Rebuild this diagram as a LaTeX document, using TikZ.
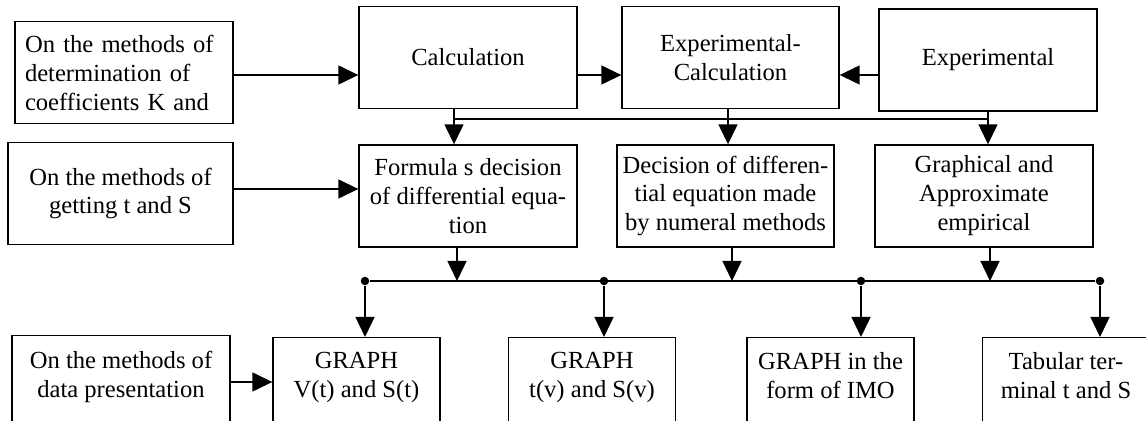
\documentclass[tikz,border=0pt]{standalone}
\usepackage{fontspec}
\setmainfont{Liberation Serif}
\usetikzlibrary{arrows.meta}
\begin{document}
\begin{tikzpicture}[x=0.02cm,y=-0.02cm,
        box/.style={draw,line width=0.8pt,align=center,inner sep=0pt,
            minimum width=4.36cm,minimum height=2.04cm,font=\fontsize{14}{16.5}\selectfont},
        lowbox/.style={box,anchor=north,minimum width=3.34cm,minimum height=0pt,
            inner ysep=0.3cm,text depth=3cm},
        arr/.style={-{Triangle[length=0.4cm,width=0.38cm]},line width=0.8pt},
        dot/.style={circle,fill,inner sep=0pt,minimum size=0.17cm}]
        \useasboundingbox (0,0) rectangle (1146,421);
        % rows of the arrows from the left
        \coordinate (r1) at (0,75);
        \coordinate (r2) at (0,189);
        \coordinate (r3) at (0,382);

        \node [box,align=left,text width=3.96cm] (kcoef) at (124,72.5) {On the methods of\\determination of\\coefficients K and};
        \node [box] (calc) at (468,57.5) {Calculation};
        \node [box,minimum width=4.34cm] (expcalc) at (730.5,57.5) {Experimental-\\Calculation};
        \node [box] (exper) at (988,60) {Experimental};

        \node [box,minimum width=4.5cm] (getts) at (120.5,193.5) {On the methods of\\getting t and S};
        \node [box] (formula) at (468,196) {Formula s decision\\of differential equa-\\tion};
        \node [box,minimum width=4.34cm] (numeral) at (725.5,196) {Decision of differen-\\tial equation made\\by numeral methods};
        \node [box] (graphic) at (984,196) {Graphical and\\Approximate\\empirical};

        \node [lowbox,minimum width=4.36cm] (present) at (121,335) {On the methods of\\data presentation};
        \node [lowbox] (gvt) at (356.5,337) {GRAPH\\V(t) and S(t)};
        \node [lowbox] (gtv) at (592,337) {GRAPH\\t(v) and S(v)};
        \node [lowbox] (gimo) at (830.5,337) {GRAPH in the\\form of IMO};
        \node [lowbox] (gtab) at (1066,337) {Tabular ter-\\minal t and S};

        \draw [arr] (kcoef.east |- r1) -- (calc.west |- r1);
        \draw [arr] (calc.east |- r1) -- (expcalc.west |- r1);
        \draw [arr] (exper.west |- r1) -- (expcalc.east |- r1);
        \draw [arr] (getts.east |- r2) -- (formula.west |- r2);
        \draw [arr] (present.east |- r3) -- (gvt.west |- r3);

        % upper bus
        \coordinate (t1) at (454,119);
        \coordinate (t2) at (728,119);
        \coordinate (t3) at (988,119);
        \draw [line width=0.8pt] (t1) -- (t3);
        \draw [arr] (calc.south -| t1) -- (formula.north -| t1);
        \draw [arr] (expcalc.south -| t2) -- (numeral.north -| t2);
        \draw [arr] (exper.south -| t3) -- (graphic.north -| t3);

        % lower bus
        \coordinate (d1) at (457,281);
        \coordinate (d2) at (732,281);
        \coordinate (d3) at (990,281);
        \draw [arr] (formula.south -| d1) -- (d1);
        \draw [arr] (numeral.south -| d2) -- (d2);
        \draw [arr] (graphic.south -| d3) -- (d3);
        \node [dot] (b0) at (365,281) {};
        \node [dot] (b1) at (604,281) {};
        \node [dot] (b2) at (861,281) {};
        \node [dot] (b3) at (1100,281) {};
        \draw [line width=0.8pt] (b0) -- (b3);
        \draw [arr] (b0) -- (gvt.north -| b0);
        \draw [arr] (b1) -- (gtv.north -| b1);
        \draw [arr] (b2) -- (gimo.north -| b2);
        \draw [arr] (b3) -- (gtab.north -| b3);

    \end{tikzpicture}
\end{document}
